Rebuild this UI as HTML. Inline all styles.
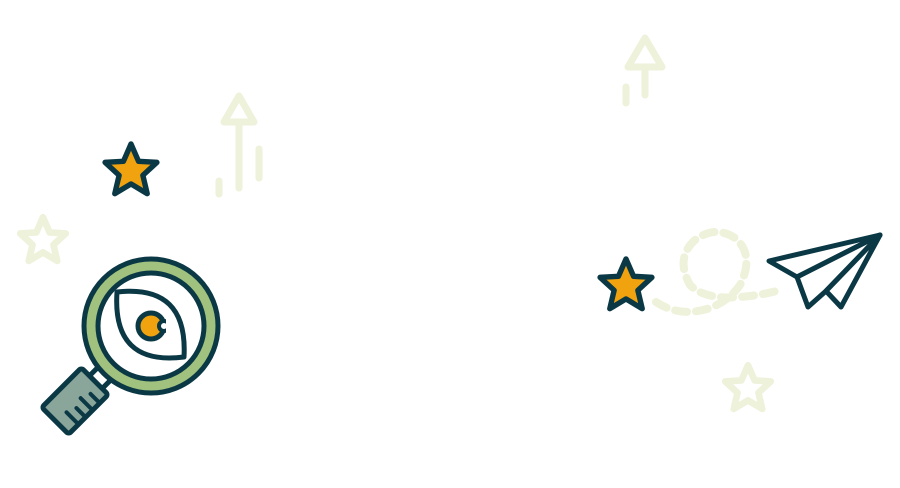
<!DOCTYPE html>
<html><head><style>html,body{margin:0;padding:0;background:#fff;width:900px;height:488px;overflow:hidden}</style></head>
<body>
<svg width="900" height="488" viewBox="0 0 900 488" xmlns="http://www.w3.org/2000/svg">
<defs>
<polygon id="st" points="0,-25 7,-9 24,-8 11,4 15,21 0,12 -15,21 -11,4 -24,-8 -7,-9"/>
</defs>
<g fill="none" stroke="#eef2da" stroke-width="7" stroke-linecap="round" stroke-linejoin="round">
<path d="M239,122 V188"/><path d="M224,122 L239,96 L254,122 Z"/>
<path d="M219,181 V194"/><path d="M259,149 V178"/>
<path d="M645,67 V95"/><path d="M628,67 L645,38 L662,67 Z"/>
<path d="M626,87 V103"/>
<use href="#st" transform="translate(43,241) scale(0.95)"/>
<use href="#st" transform="translate(748,389) scale(0.95)"/>
<path d="M656,302 Q680,318 710,308 Q730,300 740,285 Q755,255 735,238 Q715,225 695,240 Q675,258 690,285 Q705,300 740,297 Q765,295 783,289" stroke-dasharray="12,9" stroke-width="8"/>
</g>
<g fill="#f0a30f" stroke="#0b3845" stroke-width="5" stroke-linejoin="round">
<use href="#st" transform="translate(131,171) scale(1.08)"/>
<use href="#st" transform="translate(626,286) scale(1.08)"/>
</g>
<g fill="#fff" stroke="#0b3845" stroke-width="5" stroke-linejoin="round">
<path d="M769,261 L880,235 L797,277 Z"/>
<path d="M797,277 L808,307 L826,291 L880,235 Z"/>
<path d="M826,291 L841,307 L880,235 Z"/>
</g>
<g stroke="#0b3845" stroke-width="5" stroke-linejoin="round">
<rect x="-9" y="-10" width="18" height="20" fill="#fff" transform="translate(100,378) rotate(45)"/>
<g transform="translate(75,401) rotate(45)">
<rect x="-19" y="-28" width="38" height="56" rx="3" fill="#8aa69b"/>
<path d="M6,-16 H17 M2,-6 H17 M6,4 H17 M2,14 H17" fill="none" stroke-width="4" stroke-linecap="round"/>
</g>
<circle cx="151" cy="326" r="60" fill="none" stroke="#a0c27e" stroke-width="12"/>
<circle cx="151" cy="326" r="67" fill="none" stroke-width="5"/>
<circle cx="151" cy="326" r="53" fill="#fff" stroke-width="5"/>
<path d="M117,292 Q188,284 184,357 Q112,366 117,292 Z" fill="#fff" stroke-width="5"/>
<circle cx="151" cy="326" r="13" fill="#f0a30f" stroke-width="5"/>
<circle cx="164" cy="326" r="5" fill="#fff" stroke-width="4"/>
<rect x="166" y="318" width="10" height="16" fill="#fff" stroke="none"/>
</g>
</svg>
</body></html>
